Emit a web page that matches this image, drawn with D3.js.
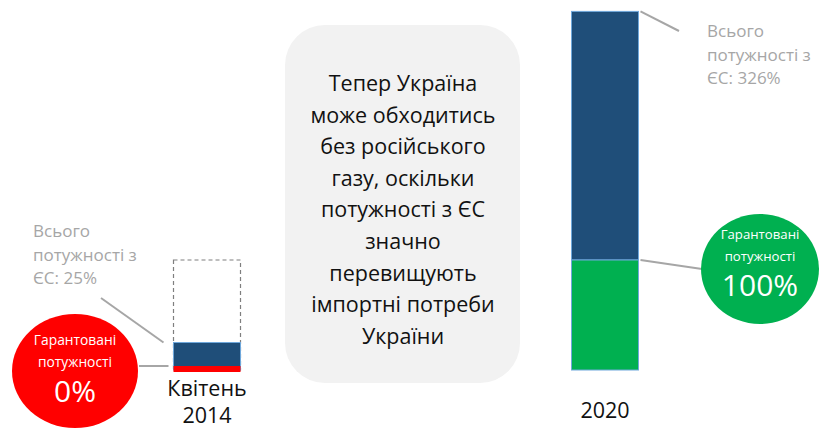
<!DOCTYPE html>
<html>
<head>
<meta charset="utf-8">
<script src="https://cdn.jsdelivr.net/npm/d3@7"></script>
<style>
  body { margin: 0; background: #fff; }
  svg { display: block; font-family: "Open Sans", "Noto Sans", sans-serif; }
</style>
</head>
<body>
<div id="chart"></div>
<script>
const periods = ['2014', '2020'];
const periodLabels = [['Квітень', '2014'], ['2020']];
const guaranteed = [0, 100];       // % of import needs, guaranteed capacity
const totalEU = [25, 326];         // % of import needs, all capacity from EU
const importNeed = [100, null];    // dashed outline for 2014
const totalLabels = [['Всього', 'потужності з', 'ЄС: 25%'], ['Всього', 'потужності з', 'ЄС: 326%']];
const guaranteedLabels = ['0%', '100%'];
const note = ['Тепер Україна', 'може обходитись', 'без російського', 'газу, оскільки',
  'потужності з ЄС', 'значно', 'перевищують', 'імпортні потреби', 'України'];

const width = 826, height = 429;
const svg = d3.select('#chart').append('svg')
    .attr('width', width)
    .attr('height', height);

const x = d3.scalePoint().domain(periods).range([207, 605]);
const y = d3.scaleLinear().domain([0, 326]).range([370, 11.4]);
const barW = 67;

const rows = periods.map((p, i) => ({
  p, g: guaranteed[i], t: totalEU[i], need: importNeed[i]
}));

// note box
svg.append('rect')
    .attr('x', 285).attr('y', 25)
    .attr('width', 235).attr('height', 358)
    .attr('rx', 40)
    .attr('fill', '#f2f2f2');

svg.append('g')
    .selectAll('text')
    .data(note)
    .join('text')
    .attr('x', 403)
    .attr('y', (d, i) => 91 + i * 31.6)
    .attr('text-anchor', 'middle')
    .attr('font-size', 21.5)
    .attr('fill', '#111')
    .text(d => d);

// dashed outline = import need
svg.append('g')
    .selectAll('rect')
    .data(rows.filter(d => d.need))
    .join('rect')
    .attr('x', d => x(d.p) - barW / 2)
    .attr('y', d => y(d.need))
    .attr('width', barW)
    .attr('height', d => y(0) - y(d.need))
    .attr('fill', 'none')
    .attr('stroke', '#7f7f7f')
    .attr('stroke-dasharray', '4,3')
    .attr('stroke-width', 1.2);

// EU capacity above guaranteed part
svg.append('g')
    .selectAll('rect')
    .data(rows)
    .join('rect')
    .attr('x', d => x(d.p) - barW / 2)
    .attr('y', d => y(d.t))
    .attr('width', barW)
    .attr('height', d => y(d.g) - y(d.t))
    .attr('fill', '#1f4e79')
    .attr('stroke', '#6fa8dc')
    .attr('stroke-width', 1);

// guaranteed part
svg.append('g')
    .selectAll('rect')
    .data(rows.filter(d => d.g > 0))
    .join('rect')
    .attr('x', d => x(d.p) - barW / 2)
    .attr('y', d => y(d.g))
    .attr('width', barW)
    .attr('height', d => y(0) - y(d.g))
    .attr('fill', '#00b050')
    .attr('stroke', '#6fa8dc')
    .attr('stroke-width', 1);

// zero guaranteed: red line at base
svg.append('g')
    .selectAll('rect')
    .data(rows.filter(d => d.g === 0))
    .join('rect')
    .attr('x', d => x(d.p) - barW / 2)
    .attr('y', y(0) - 4)
    .attr('width', barW)
    .attr('height', 6)
    .attr('fill', '#ff0000');

// category labels
periods.forEach((p, i) => {
  const lines = periodLabels[i];
  const y0 = lines.length > 1 ? 396 : 418;
  svg.append('g')
      .selectAll('text')
      .data(lines)
      .join('text')
      .attr('x', x(p))
      .attr('y', (l, j) => y0 + j * 26.5)
      .attr('text-anchor', 'middle')
      .attr('font-size', 21.5)
      .attr('fill', '#111')
      .text(l => l);
});

// connector lines
const grey = '#a6a6a6';
const conn = [
  [101, 298, x('2014') - barW / 2 - 10, y(totalEU[0])],
  [139, y(0) - 4, x('2014') - barW / 2 - 5, y(0) - 4],
  [x('2020') + barW / 2 + 2, y(totalEU[1]), 679, 31],
  [x('2020') + barW / 2 + 2, y(guaranteed[1]), 702, 269]
];
svg.append('g')
    .selectAll('line')
    .data(conn)
    .join('line')
    .attr('x1', d => d[0]).attr('y1', d => d[1])
    .attr('x2', d => d[2]).attr('y2', d => d[3])
    .attr('stroke', grey)
    .attr('stroke-width', 2);

// total labels
const totalPos = [[33, 237], [707, 37]];
totalLabels.forEach((lines, i) => {
  svg.append('text')
      .attr('font-size', 17)
      .attr('fill', grey)
      .selectAll('tspan')
      .data(lines)
      .join('tspan')
      .attr('x', totalPos[i][0])
      .attr('y', (d, j) => totalPos[i][1] + j * 23.5)
      .text(d => d);
});

// guaranteed circles
const circles = [
  {cx: 75, cy: 371, rx: 63, ry: 57, fill: '#ff0000', t: 345, fs: 13.8},
  {cx: 760, cy: 269, rx: 59, ry: 55, fill: '#00b050', t: 239, fs: 13.2}
];
circles.forEach((c, i) => {
  svg.append('ellipse')
      .attr('cx', c.cx).attr('cy', c.cy)
      .attr('rx', c.rx).attr('ry', c.ry)
      .attr('fill', c.fill);
  svg.append('text')
      .attr('x', c.cx).attr('y', c.t)
      .attr('text-anchor', 'middle')
      .attr('font-size', c.fs)
      .attr('fill', '#fff')
      .text('Гарантовані');
  svg.append('text')
      .attr('x', c.cx).attr('y', c.t + 22)
      .attr('text-anchor', 'middle')
      .attr('font-size', c.fs)
      .attr('fill', '#fff')
      .text('потужності');
  svg.append('text')
      .attr('x', c.cx).attr('y', c.t + 57)
      .attr('text-anchor', 'middle')
      .attr('font-size', 30)
      .attr('fill', '#fff')
      .text(guaranteedLabels[i]);
});
</script>
</body>
</html>
